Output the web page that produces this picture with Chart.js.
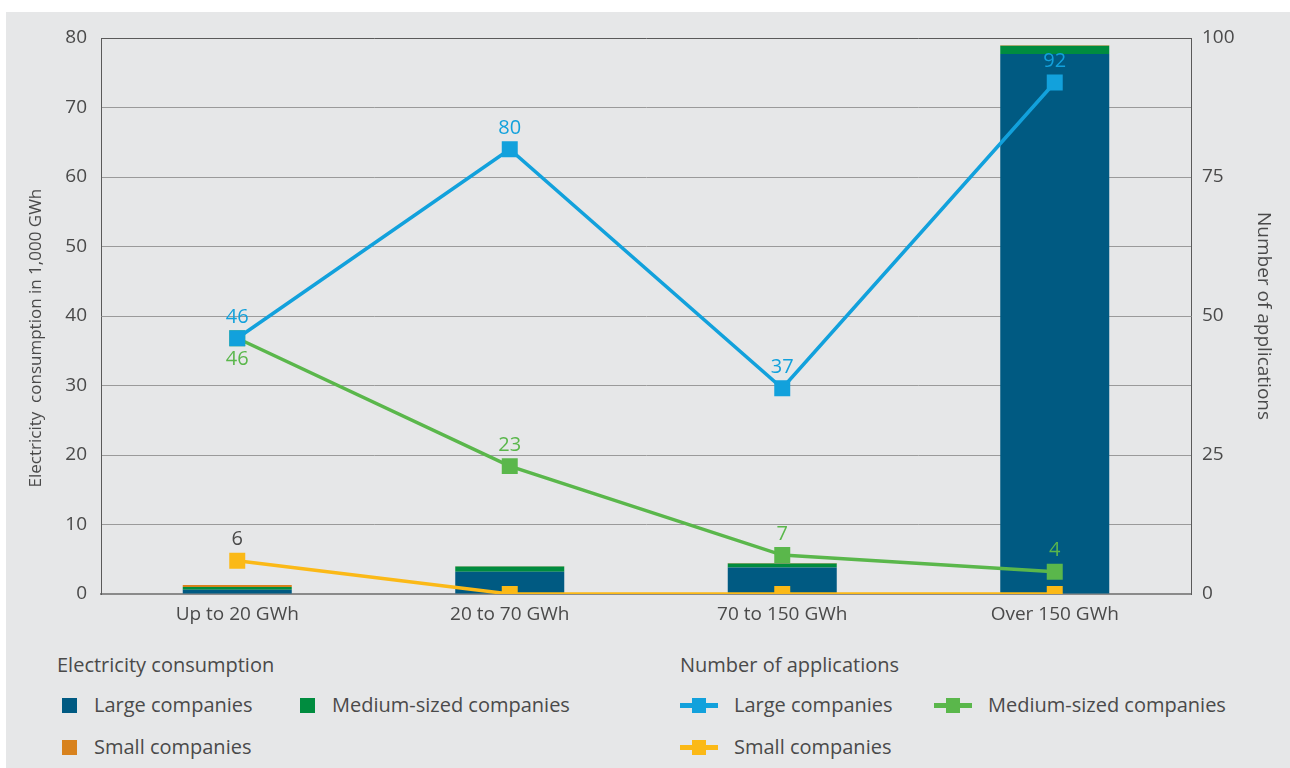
<!DOCTYPE html>
<html>
<head>
<meta charset="utf-8">
<script src="https://cdn.jsdelivr.net/npm/chart.js@4/dist/chart.umd.min.js"></script>
<style>
  body { margin: 0; background: #fff; font-family: "Open Sans", sans-serif; }
  #panel { position: absolute; left: 6px; top: 12px; width: 1284px; height: 756px; background: #e6e7e8; }
  #wrap { position: absolute; left: 0; top: 0; width: 1290px; height: 640px; }
  .legend { position: absolute; color: #4a4a4a; font-size: 20px; }
  .legend .title { position: absolute; white-space: nowrap; }
  .item { position: absolute; white-space: nowrap; line-height: 22px; }
  .sw { position: absolute; width: 15px; height: 15px; }
  .ln { position: absolute; width: 38px; height: 5px; }
  .ln i { position: absolute; left: 12px; top: -5px; width: 14px; height: 15px; }
</style>
</head>
<body>
<div id="panel"></div>
<div id="wrap"><canvas id="myChart"></canvas></div>
<div id="legend"></div>
<script>
const categories = ['Up to 20 GWh', '20 to 70 GWh', '70 to 150 GWh', 'Over 150 GWh'];

// electricity consumption, 1,000 GWh (left axis)
const consLarge = [0.6, 3.2, 3.8, 77.7];
const consMedium = [0.4, 0.75, 0.6, 1.2];
const consSmall = [0.3, 0.05, 0.05, 0.05];

// number of applications (right axis)
const appsLarge = [46, 80, 37, 92];
const appsMedium = [46, 23, 7, 4];
const appsSmall = [6, 0, 0, 0];

const leftTicks = [0, 10, 20, 30, 40, 50, 60, 70, 80];
const rightTicks = [0, 25, 50, 75, 100];

const colors = {
    barLarge: '#005a82', barMedium: '#008c3f', barSmall: '#d8821d',
    lineLarge: '#12a1dc', lineMedium: '#5ab74b', lineSmall: '#fbb917'
};
const textColor = '#4a4a4a';
const fontFamily = '"Open Sans", sans-serif';

// numbers written next to the line markers
const pointLabels = {
    id: 'pointLabels',
    afterDatasetsDraw(chart) {
        const ctx = chart.ctx;
        chart.data.datasets.forEach((ds, i) => {
            if (ds.type !== 'line') return;
            const meta = chart.getDatasetMeta(i);
            meta.data.forEach((pt, j) => {
                const v = ds.data[j];
                if (!v) return;
                const below = ds.labelBelow && ds.labelBelow[j];
                ctx.save();
                ctx.font = '20px ' + fontFamily;
                ctx.fillStyle = ds.labelColor;
                ctx.textAlign = 'center';
                ctx.textBaseline = 'middle';
                ctx.fillText(String(v), pt.x, pt.y + (below ? 21 : -21));
                ctx.restore();
            });
        });
    }
};

function barSet(label, data, color) {
    return { type: 'bar', label: label, data: data, backgroundColor: color,
        yAxisID: 'y', stack: 'cons', order: 5, barPercentage: 0.4, categoryPercentage: 1 };
}

function lineSet(label, data, color, labelColor, order, labelBelow) {
    return { type: 'line', label: label, data: data, borderColor: color, backgroundColor: color,
        borderWidth: 3.5, pointStyle: 'rect', pointRadius: 11.3, pointHoverRadius: 11.3,
        pointBorderWidth: 0, tension: 0, yAxisID: 'y1', order: order,
        labelColor: labelColor, labelBelow: labelBelow };
}

const ctx = document.getElementById('myChart').getContext('2d');
const myChart = new Chart(ctx, {
    data: {
        labels: categories,
        datasets: [
            barSet('Large companies', consLarge, colors.barLarge),
            barSet('Medium-sized companies', consMedium, colors.barMedium),
            barSet('Small companies', consSmall, colors.barSmall),
            lineSet('Small companies', appsSmall, colors.lineSmall, textColor, 3, null),
            lineSet('Medium-sized companies', appsMedium, colors.lineMedium, colors.lineMedium, 2, [true, false, false, false]),
            lineSet('Large companies', appsLarge, colors.lineLarge, colors.lineLarge, 1, null)
        ]
    },
    options: {
        responsive: true,
        maintainAspectRatio: false,
        animation: false,
        layout: { padding: { top: 38, left: 0, right: 0, bottom: 0 } },
        plugins: { legend: { display: false }, tooltip: { enabled: false } },
        scales: {
            x: {
                stacked: true,
                grid: { display: false, drawTicks: false },
                border: { color: '#8a8a8a', width: 2 },
                ticks: { color: textColor, font: { family: fontFamily, size: 19 }, padding: 9 },
                afterFit: s => { s.height = 46; }
            },
            y: {
                position: 'left', stacked: true, min: 0, max: 80,
                afterBuildTicks: s => { s.ticks = leftTicks.map(v => ({ value: v })); },
                grid: { color: c => c.tick.value === 80 ? '#5a5a5a' : '#9a9a9a', drawTicks: false },
                border: { color: '#5a5a5a', width: 1 },
                ticks: { color: textColor, font: { family: fontFamily, size: 19 }, padding: 14 },
                // trailing spaces push the rotated title a little lower
                title: { display: true, text: 'Electricity  consumption in 1,000 GWh          ', color: textColor,
                    font: { family: fontFamily, size: 17 }, padding: { top: 26, bottom: 0 } },
                afterFit: s => { s.width = 101; }
            },
            y1: {
                position: 'right', min: 0, max: 100,
                afterBuildTicks: s => { s.ticks = rightTicks.map(v => ({ value: v })); },
                grid: { display: false, drawTicks: false },
                border: { color: '#5a5a5a', width: 1 },
                ticks: { color: textColor, font: { family: fontFamily, size: 19 }, padding: 11 },
                title: { display: true, text: 'Number of applications', color: textColor,
                    font: { family: fontFamily, size: 19 }, padding: { top: 15, bottom: 0 } },
                afterFit: s => { s.width = 99; }
            }
        }
    },
    plugins: [pointLabels]
});

// legend below the chart
const legendBars = [
    { text: 'Large companies', color: colors.barLarge, x: 62, y: 706 },
    { text: 'Medium-sized companies', color: colors.barMedium, x: 300, y: 706 },
    { text: 'Small companies', color: colors.barSmall, x: 62, y: 748 }
];
const legendLines = [
    { text: 'Large companies', color: colors.lineLarge, x: 680, y: 706 },
    { text: 'Medium-sized companies', color: colors.lineMedium, x: 934, y: 706 },
    { text: 'Small companies', color: colors.lineSmall, x: 680, y: 748 }
];

let html = '<div class="legend" style="left:0;top:0">';
html += '<div class="title" style="left:57px;top:651px">Electricity consumption</div>';
html += '<div class="title" style="left:680px;top:651px">Number of applications</div>';
legendBars.forEach(it => {
    html += `<div class="sw" style="left:${it.x}px;top:${it.y - 8}px;background:${it.color}"></div>`;
    html += `<div class="item" style="left:${it.x + 32}px;top:${it.y - 12}px">${it.text}</div>`;
});
legendLines.forEach(it => {
    html += `<div class="ln" style="left:${it.x}px;top:${it.y - 3}px;background:${it.color}"><i style="background:${it.color}"></i></div>`;
    html += `<div class="item" style="left:${it.x + 54}px;top:${it.y - 12}px">${it.text}</div>`;
});
html += '</div>';
document.getElementById('legend').innerHTML = html;
</script>
</body>
</html>
